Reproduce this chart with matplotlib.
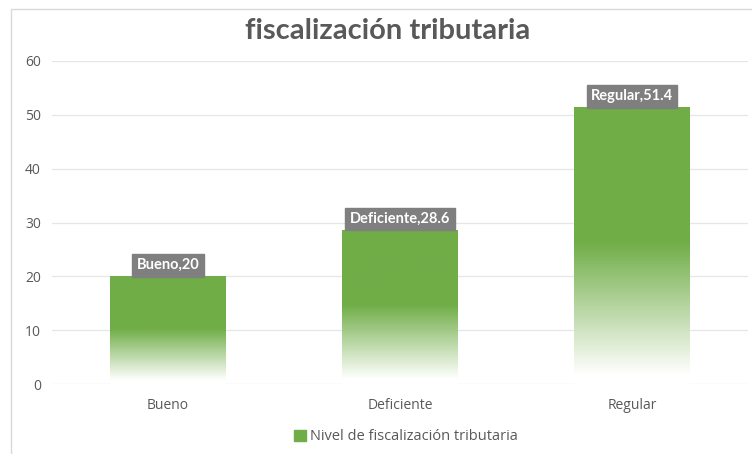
import numpy as np
import matplotlib.pyplot as plt
from matplotlib.colors import LinearSegmentedColormap
from matplotlib.patches import Rectangle, Patch

categories = ['Bueno', 'Deficiente', 'Regular']
values = [20, 28.6, 51.4]
point_labels = ['Bueno,20', 'Deficiente,28.6', 'Regular,51.4']
series_name = 'Nivel de fiscalización tributaria'
title = 'fiscalización tributaria'

green = '#70AD47'
text_gray = '#595959'

plt.rcParams['font.family'] = ['Open Sans', 'DejaVu Sans']

fig = plt.figure(figsize=(7.52, 4.54), dpi=100)
fig.patch.set_facecolor('white')
# outer chart border
fig.add_artist(Rectangle((11 / 752, -0.1), 1.2, 1 - 9 / 454 + 0.1, transform=fig.transFigure,
                         fill=False, edgecolor='#D9D9D9', linewidth=1))

ax = fig.add_axes([52 / 752, 1 - 384 / 454, 696 / 752, 323 / 454])
ax.set_ylim(0, 60)
ax.set_yticks(np.arange(0, 61, 10))
ax.yaxis.grid(True, color='#E6E6E6', linewidth=0.9)
ax.set_axisbelow(True)
for s in ax.spines.values():
    s.set_visible(False)
ax.tick_params(axis='both', length=0, colors=text_gray, labelsize=10)
ax.tick_params(axis='x', pad=10)
ax.tick_params(axis='y', pad=8)
ax.set_xticks(range(len(categories)))
ax.set_xticklabels(categories)

# gradient: solid green in the top half, fading to white at the bottom
cmap = LinearSegmentedColormap.from_list('fade', [(0, '#FFFFFF'), (0.5, green), (1, green)])
grad = np.linspace(1, 0, 256).reshape(-1, 1)
width = 0.5
for i, v in enumerate(values):
    ax.imshow(grad, extent=(i - width / 2, i + width / 2, 0, v), aspect='auto',
              cmap=cmap, vmin=0.03, vmax=1, zorder=2)
    ax.annotate(point_labels[i], xy=(i, v), xytext=(0, 8), textcoords='offset points',
                ha='center', va='center', color='white', fontsize=10.5, fontweight='bold',
                family=['Lato', 'DejaVu Sans'],
                bbox=dict(boxstyle='square,pad=0.3', facecolor='#7F7F7F', edgecolor='#7F7F7F'),
                zorder=4)
ax.set_xlim(-0.5, len(categories) - 0.5)
ax.set_ylim(0, 60)

fig.text(0.515, 1 - 31 / 454, title, ha='center', va='center', fontsize=21,
         fontweight='bold', color=text_gray, family=['Lato', 'DejaVu Sans'])

leg = fig.legend(handles=[Patch(facecolor=green, edgecolor=green, label=series_name)],
                 loc='center', bbox_to_anchor=(0.54, 1 - 437 / 454), frameon=False,
                 fontsize=10.5, handlelength=0.8, handleheight=0.8, handletextpad=0.3)
for t in leg.get_texts():
    t.set_color(text_gray)

fig.savefig('out.png', dpi=100)
